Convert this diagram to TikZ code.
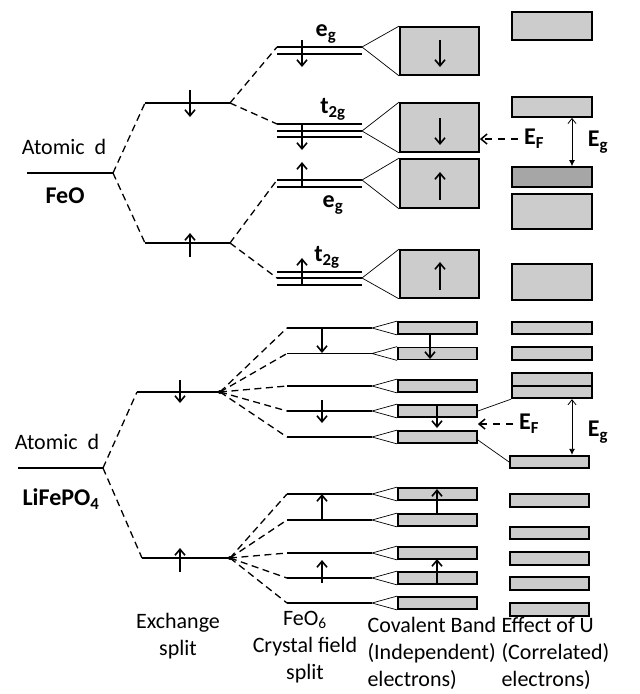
\documentclass[tikz,border=0pt]{standalone}
\usepackage{fontspec}
\setmainfont{Carlito}
\usetikzlibrary{positioning,arrows.meta}
\definecolor{bandfill}{RGB}{204,204,204}
\definecolor{holefill}{RGB}{166,166,166}
\tikzset{
level/.style={line width=1.9pt},
split/.style={line width=1.3pt,dash pattern=on 7pt off 4.5pt},
fan/.style={line width=0.7pt},
band/.style={draw,line width=1.8pt,fill=bandfill,inner sep=0pt,minimum width=79pt},
spin/.style={line width=1.6pt,-{Straight Barb[length=6pt,width=10pt]}},
gap/.style={line width=0.8pt,{Straight Barb[length=5pt,width=8pt]}-{Latex[length=6pt,width=6pt]}},
fermi/.style={line width=1.5pt,dash pattern=on 7pt off 6pt,-{Straight Barb[length=6pt,width=10pt]}},
lbl/.style={font=\fontsize{22}{27}\selectfont},
blbl/.style={font=\fontsize{24}{28}\selectfont\bfseries},
}
\begin{document}
\begin{tikzpicture}[x=1pt,y=-1pt]
\useasboundingbox (0,0) rectangle (640,694);
% FeO
\coordinate (a) at (27,173);
\coordinate (a1) at (113,173);
\draw[level] (a) -- (a1);
\node[lbl] (at1) at (64,147) {Atomic\ \ d};
\node[blbl] (feo) at (65,196) {FeO};
\coordinate (x1) at (145,103);
\coordinate (x2) at (230,103);
\coordinate (x3) at (145,243);
\coordinate (x4) at (230,243);
\draw[level] (x1) -- (x2);
\draw[level] (x3) -- (x4);
\draw[spin] (190,90) -- (190,117);
\draw[spin] (190,257) -- (190,233);
\draw[split] (a1) -- (x1);
\draw[split] (a1) -- (x3);
\foreach \y in {47,54} \draw[level] (277,\y) -- (362,\y);
\foreach \y in {124,131,137} \draw[level] (277,\y) -- (362,\y);
\foreach \y in {180,187} \draw[level] (277,\y) -- (362,\y);
\foreach \y in {272,278,285} \draw[level] (277,\y) -- (362,\y);
\coordinate (e1) at (277,47);
\coordinate (t1) at (277,124);
\coordinate (e2) at (277,180);
\coordinate (t2) at (277,278);
\draw[split] (x2) -- (e1);
\draw[split] (x2) -- (t1);
\draw[split] (x4) -- (e2);
\draw[split] (x4) -- (t2);
\draw[spin] (302,40) -- (302,67);
\draw[spin] (302,124) -- (302,150);
\draw[spin] (302,187) -- (302,162);
\draw[spin] (302,285) -- (302,258);
\node[blbl] (le1) at (326,34) {e\textsubscript{g}};
\node[blbl] (lt1) at (333,109) {t\textsubscript{2g}};
\node[blbl] (le2) at (333,205) {e\textsubscript{g}};
\node[blbl] (lt2) at (327,257) {t\textsubscript{2g}};
\node[band,minimum height=48pt] (b1) at (439.5,51) {};
\node[band,minimum height=49pt] (b2) at (439.5,127.5) {};
\node[band,minimum height=49pt] (b3) at (439.5,183.5) {};
\node[band,minimum height=48pt] (b4) at (439.5,274) {};
\draw[fan] (b1.north west) -- (362,47) -- (b1.south west);
\draw[fan] (b2.north west) -- (362,131) -- (b2.south west);
\draw[fan] (b3.north west) -- (362,180) -- (b3.south west);
\draw[fan] (b4.north west) -- (362,278) -- (b4.south west);
\draw[spin] (440,40) -- (440,67);
\draw[spin] (440,118) -- (440,145);
\draw[spin] (440,200) -- (440,172);
\draw[spin] (440,290) -- (440,262);
\node[band,minimum width=80pt,minimum height=28pt] (v1) at (552,26) {};
\node[band,minimum width=80pt,minimum height=20pt] (v2) at (552,107) {};
\node[band,minimum width=80pt,minimum height=20pt,fill=holefill] (v3) at (552,177) {};
\node[band,minimum width=80pt,minimum height=35pt] (v4) at (552,211.5) {};
\node[band,minimum width=80pt,minimum height=36pt] (v5) at (552,282) {};
\draw[gap] ([xshift=20pt]v2.south) -- ([xshift=20pt]v3.north);
\node[blbl] (g1) at (598,142) {E\textsubscript{g}};
\node[blbl] (f1) at (534,139) {E\textsubscript{F}};
\draw[fermi] ([xshift=-3pt]f1.west) -- (b2.east |- f1.west);
% LiFePO4
\coordinate (d) at (18,468);
\coordinate (d1) at (103,468);
\draw[level] (d) -- (d1);
\node[lbl] (at2) at (57,442) {Atomic\ \ d};
\node[blbl] (lfp) at (61,499) {LiFePO\textsubscript{4}};
\coordinate (x5) at (137,392);
\coordinate (x6) at (220,392);
\coordinate (x7) at (142,558);
\coordinate (x8) at (230,558);
\draw[level] (x5) -- (x6);
\draw[level] (x7) -- (x8);
\draw[spin] (180,380) -- (180,403);
\draw[spin] (180,572) -- (180,548);
\draw[split] (d1) -- (x5);
\draw[split] (d1) -- (x7);
\foreach \y [count=\i] in {328,353.5,386,411,437}{
\coordinate (l\i) at (287,\y);
\coordinate (r\i) at (372,\y);
\draw[level] (l\i) -- (r\i);
\draw[split] (x6) -- (l\i);
\node[band,minimum height=12pt] (c\i) at (437.5,\y) {};
\draw[fan] (c\i.north west) -- (r\i) -- (c\i.south west);
}
\foreach \y [count=\i from 6] in {494,520,553,578,603}{
\coordinate (l\i) at (287,\y);
\coordinate (r\i) at (372,\y);
\draw[level] (l\i) -- (r\i);
\draw[split] (x8) -- (l\i);
\node[band,minimum height=12pt] (c\i) at (437.5,\y) {};
\draw[fan] (c\i.north west) -- (r\i) -- (c\i.south west);
}
\fill (x6) circle (2pt);
\fill (x8) circle (2pt);
\draw[spin] (322,328) -- (322,353);
\draw[spin] (322,400) -- (322,423);
\draw[spin] (322,520) -- (322,494);
\draw[spin] (322,583) -- (322,560);
\draw[spin] (430,335) -- (430,359);
\draw[spin] (437,406) -- (437,428);
\draw[spin] (437,513) -- (437,489);
\draw[spin] (437,583) -- (437,559);
\foreach \y [count=\i] in {328,353.5,379.5,392}
\node[band,minimum width=80pt,minimum height=12.5pt] (u\i) at (552,\y) {};
\foreach \y [count=\i from 5] in {462,500.5,533,558.5,583.5,609.5}
\node[band,minimum height=12.5pt] (u\i) at (549.5,\y) {};
\draw[fan] (c4.east) -- (u4.south west);
\draw[fan] ([yshift=-3pt]c5.east) -- (u5.west);
\draw[gap] ([xshift=20pt]u4.south) -- ([xshift=20pt]u4.south |- u5.north);
\node[blbl] (g2) at (598,432) {E\textsubscript{g}};
\node[blbl] (f2) at (529,424) {E\textsubscript{F}};
\draw[fermi] ([xshift=-3pt]f2.west) -- (c4.east |- f2.west);
% captions
\node[lbl,align=center] (s1) at (178,636) {Exchange\\split};
\node[lbl,align=center] (s2) at (305,647) {FeO\textsubscript{6}\\Crystal field\\split};
\node[lbl,align=left,anchor=west] (s3) at (364,653) {Covalent Band\\(Independent)\\electrons)};
\node[lbl,align=left,anchor=west] (s4) at (498,653) {Effect of U\\(Correlated)\\electrons)};
\end{tikzpicture}
\end{document}
